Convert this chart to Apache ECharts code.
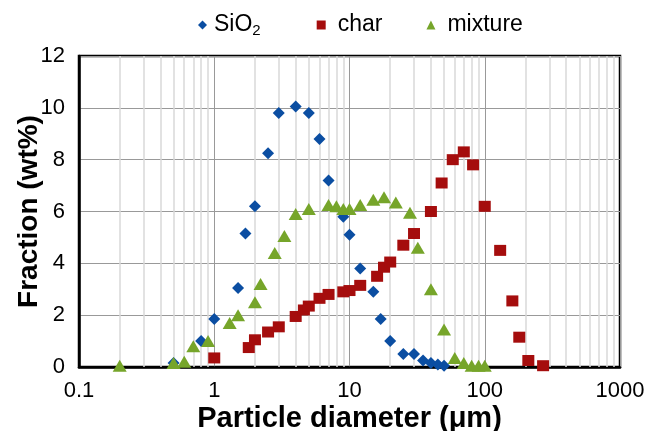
<!DOCTYPE html>
<html>
<head>
  <meta charset="UTF-8">
  <title>Particle size distribution</title>
  <script src="https://cdn.jsdelivr.net/npm/echarts@6/dist/echarts.min.js"></script>
  <style>
    html, body { margin: 0; padding: 0; background: #fff; }
    #main { width: 651px; height: 431px; }
  </style>
</head>
<body>
<div id="main"></div>
<script type="text/javascript">
  // particle diameter (um) / fraction (wt%)
  var sio2X = [0.5, 0.8, 1.0, 1.5, 1.7, 2.0, 2.5, 3.0, 4.0, 5.0, 6.0, 7.0, 9.0, 10, 12, 15, 17, 20, 25, 30, 35, 40, 45, 50];
  var sio2Y = [0.15, 1.0, 1.85, 3.05, 5.15, 6.2, 8.25, 9.8, 10.05, 9.8, 8.8, 7.2, 5.8, 5.1, 3.8, 2.9, 1.85, 1.0, 0.5, 0.5, 0.25, 0.15, 0.1, 0.05];

  var charX = [1.0, 1.8, 2.0, 2.5, 3.0, 4.0, 4.6, 5.0, 6.0, 7.0, 9.0, 10, 12, 16, 18, 20, 25, 30, 40, 48, 58, 70, 82, 100, 130, 160, 180, 210, 270];
  var charY = [0.35, 0.75, 1.05, 1.35, 1.55, 1.95, 2.2, 2.35, 2.65, 2.8, 2.9, 2.95, 3.15, 3.5, 3.85, 4.05, 4.7, 5.15, 6.0, 7.1, 8.0, 8.3, 7.8, 6.2, 4.5, 2.55, 1.15, 0.25, 0.05];

  var mixX = [0.2, 0.5, 0.6, 0.7, 0.9, 1.3, 1.5, 2.0, 2.2, 2.8, 3.3, 4.0, 5.0, 7.0, 8.0, 9.0, 10, 12, 15, 18, 22, 28, 32, 40, 50, 60, 70, 80, 90, 100];
  var mixY = [0.05, 0.15, 0.2, 0.8, 1.0, 1.7, 2.0, 2.5, 3.2, 4.4, 5.05, 5.9, 6.1, 6.25, 6.2, 6.1, 6.1, 6.25, 6.45, 6.55, 6.35, 5.95, 4.6, 3.0, 1.45, 0.35, 0.15, 0.05, 0.05, 0.05];

  var xDecades = [0.1, 1, 10, 100];

  function pairs(xs, ys) {
    var out = [];
    for (var i = 0; i < xs.length; i++) {
      out.push([xs[i], ys[i]]);
    }
    return out;
  }

  // minor grid lines at 2..9 of each decade
  var minorLines = [];
  for (var d = 0; d < xDecades.length; d++) {
    for (var k = 2; k <= 9; k++) {
      minorLines.push({ xAxis: xDecades[d] * k });
    }
  }

  var myChart = echarts.init(document.getElementById('main'));
  myChart.setOption({
    animation: false,
    textStyle: { fontFamily: 'Liberation Sans, Arial, sans-serif', color: '#000' },
    legend: {
      top: 4,
      left: 193,
      itemGap: 44,
      itemWidth: 9,
      itemHeight: 9,
      data: [
        { name: 'SiO2', icon: 'diamond' },
        { name: 'char', icon: 'rect' },
        { name: 'mixture', icon: 'triangle' }
      ],
      formatter: function (name) {
        if (name === 'SiO2') return '{n|SiO}{s|2}';
        return '{p|' + name + '}';
      },
      textStyle: {
        color: '#000',
        rich: {
          n: { fontSize: 23, color: '#000', lineHeight: 26, padding: [0, 0, 0, 2] },
          p: { fontSize: 23, color: '#000', lineHeight: 26, padding: [0, 0, 0, 7] },
          s: { fontSize: 15, color: '#000', verticalAlign: 'bottom', lineHeight: 16, padding: [14, 12, 0, 0] }
        }
      }
    },
    grid: {
      left: 79,
      right: 31,
      top: 56,
      bottom: 64,
      outerBoundsMode: 'none',
      containLabel: false,
      show: true,
      borderColor: '#000',
      borderWidth: 2.5
    },
    xAxis: {
      type: 'log',
      logBase: 10,
      min: 0.1,
      max: 1000,
      name: 'Particle diameter (μm)',
      nameLocation: 'middle',
      nameGap: 37,
      nameMoveOverlap: false,
      nameTextStyle: { fontSize: 29, fontWeight: 'bold', color: '#000' },
      axisLine: { show: true, lineStyle: { color: '#000', width: 2.5 } },
      axisTick: { show: false },
      axisLabel: {
        fontSize: 22,
        color: '#000',
        margin: 13,
        formatter: function (v) { return String(parseFloat(v.toPrecision(6))); }
      },
      splitLine: { show: true, lineStyle: { color: '#999', width: 1 } }
    },
    yAxis: {
      type: 'value',
      min: 0,
      max: 12,
      interval: 2,
      name: 'Fraction (wt%)',
      nameLocation: 'middle',
      nameGap: 36,
      nameMoveOverlap: false,
      nameTextStyle: { fontSize: 28, fontWeight: 'bold', color: '#000' },
      axisLine: { show: true, lineStyle: { color: '#000', width: 2.5 } },
      axisTick: { show: false },
      axisLabel: { fontSize: 22, color: '#000', margin: 14 },
      splitLine: { show: true, lineStyle: { color: '#999', width: 1 } }
    },
    series: [
      {
        name: 'grid',
        type: 'scatter',
        data: [],
        z: 1,
        silent: true,
        markLine: {
          silent: true,
          z: 1,
          symbol: 'none',
          label: { show: false },
          emphasis: { disabled: true },
          lineStyle: { color: '#d9d9d9', width: 1.5, type: 'solid' },
          data: minorLines
        }
      },
      {
        name: 'SiO2',
        type: 'scatter',
        symbol: 'diamond',
        symbolSize: 12,
        itemStyle: { color: '#0b4ea2', opacity: 1 },
        z: 3,
        data: pairs(sio2X, sio2Y)
      },
      {
        name: 'char',
        type: 'scatter',
        symbol: 'rect',
        symbolSize: [12, 11],
        itemStyle: { color: '#a50d0d', opacity: 1 },
        z: 3,
        data: pairs(charX, charY)
      },
      {
        name: 'mixture',
        type: 'scatter',
        symbol: 'triangle',
        symbolSize: [14, 12],
        itemStyle: { color: '#76a52a', opacity: 1 },
        z: 4,
        data: pairs(mixX, mixY)
      }
    ]
  });
</script>
</body>
</html>
